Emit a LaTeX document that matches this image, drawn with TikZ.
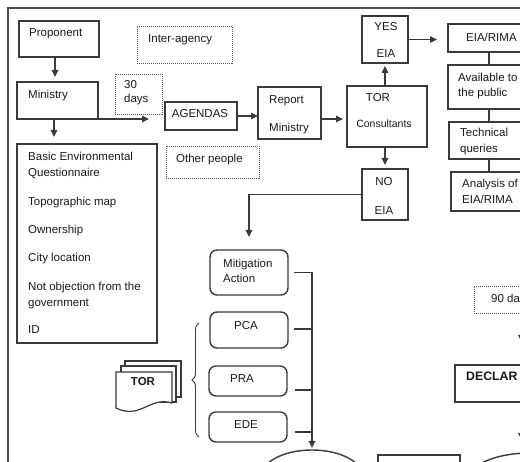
\documentclass[tikz,border=0pt]{standalone}
\usepackage{fontspec}
\setmainfont{Liberation Sans}
\usetikzlibrary{arrows.meta,decorations.pathreplacing,shapes.geometric}
\definecolor{ln}{HTML}{3A3A3A}
\definecolor{tx}{HTML}{1A1A1A}
\begin{document}
\begin{tikzpicture}[x=1pt,y=-1pt,
 box/.style={draw=ln,line width=1.4pt,inner sep=0,outer sep=0,fill=white},
 rbox/.style={box,rounded corners=7pt},
 dbox/.style={draw=ln!85,line width=0.9pt,dash pattern=on 1pt off 1pt,inner sep=0,outer sep=0},
 ebox/.style={draw=ln,line width=1.4pt,ellipse,inner sep=0,outer sep=0},
 lbl/.style={inner sep=0,text height=8pt,text depth=0pt,font=\fontsize{11.5}{13}\selectfont,text=tx},
 lw/.style={lbl,anchor=west},
 lb/.style={lbl,font=\fontsize{11.5}{13}\selectfont\bfseries},
 arr/.style={draw=ln,line width=1.3pt,-{Triangle[length=7pt,width=6.5pt]}},
 con/.style={draw=ln,line width=1.3pt},
 doc/.style={draw=ln,line width=1.2pt,fill=white},
]
\useasboundingbox (0,0) rectangle (520,462);
\clip (0,0) rectangle (520,462);
\fill[white] (0,0) rectangle (520,462);
% frame
\draw[draw=ln!90,line width=1.5pt] (8,470) -- (8,8) -- (530,8);

% boxes
\node[box,minimum width=80pt,minimum height=36pt] (prop) at (59,39) {};
\node[box,minimum width=81pt,minimum height=37pt] (mini) at (57.5,100.5) {};
\node[dbox,minimum width=95pt,minimum height=37pt] (inter) at (184.5,44.5) {};
\node[dbox,minimum width=47pt,minimum height=40pt] (days) at (138.5,94) {};
\node[box,minimum width=72pt,minimum height=28pt] (agen) at (201,116) {};
\node[box,minimum width=63pt,minimum height=52pt] (rep) at (289.5,113) {};
\node[box,minimum width=80pt,minimum height=61pt] (torc) at (387,116.5) {};
\node[box,minimum width=46pt,minimum height=47pt] (yes) at (385,39.5) {};
\node[box,minimum width=112pt,minimum height=28pt] (eia) at (504,38) {};
\node[box,minimum width=112pt,minimum height=44pt] (avail) at (504,87) {};
\node[box,minimum width=111pt,minimum height=37pt] (tech) at (504.5,140.5) {};
\node[box,minimum width=109pt,minimum height=39pt] (anal) at (505.5,191.5) {};
\node[box,minimum width=140pt,minimum height=199pt] (basic) at (87,243.5) {};
\node[dbox,minimum width=93pt,minimum height=32pt] (other) at (212.5,162) {};
\node[box,minimum width=46pt,minimum height=51pt] (no) at (385,194.5) {};
\node[rbox,minimum width=78pt,minimum height=45pt] (mit) at (249,272.5) {};
\node[rbox,minimum width=78pt,minimum height=36pt] (pca) at (249,330) {};
\node[rbox,minimum width=78pt,minimum height=30pt] (pra) at (248,381) {};
\node[rbox,minimum width=78pt,minimum height=30pt] (ede) at (248,427) {};
\node[dbox,minimum width=96pt,minimum height=27pt] (ninety) at (522,299.5) {};
\node[box,minimum width=115pt,minimum height=37pt] (decl) at (512.5,383.5) {};
\node[ebox,minimum width=104pt,minimum height=56pt] (ell) at (312,478) {};
\node[box,minimum width=82pt,minimum height=45pt] (brect) at (419,477.5) {};
\node[ebox,minimum width=124pt,minimum height=54pt] (ell2) at (530,480) {};

% TOR documents
\draw[doc] (125,361) rectangle (181,397);
\draw[doc] (121,366) rectangle (176,402);
\draw[doc] (116,372) -- (172,372) -- (172,403) .. controls (150,396) and (140,420) .. (116,408) -- cycle;
\node[lb] (tordoc) at (143,382) {TOR};

% brace
\draw[decorate,decoration={brace,amplitude=7pt},draw=ln,line width=0.9pt] (199,437) -- (199,323);

% texts
\node[lw] (tprop) at (29,33) {Proponent};
\node[lw] (tinter) at (148,39) {Inter-agency};
\node[lw] (tmini) at (28,95) {Ministry};
\node[lw] (td1) at (124,85) {30};
\node[lw] (td2) at (124,99) {days};
\node[lbl] (tagen) at (200,114) {AGENDAS};
\node[lw] (trep1) at (269,100) {Report};
\node[lw] (trep2) at (269,128) {Ministry};
\node[lbl] (ttor1) at (378,98) {TOR};
\node[lbl,font=\fontsize{10.5}{12}\selectfont] (ttor2) at (384,124) {Consultants};
\node[lbl] (tyes1) at (386,27) {YES};
\node[lbl] (tyes2) at (386,54) {EIA};
\node[lw] (teia) at (466,38) {EIA/RIMA};
\node[lw] (tav1) at (458,78) {Available to};
\node[lw] (tav2) at (458,93) {the public};
\node[lw] (tte1) at (460,133) {Technical};
\node[lw] (tte2) at (460,149) {queries};
\node[lw] (tan1) at (462,184) {Analysis of};
\node[lw] (tan2) at (462,200) {EIA/RIMA};
\node[lw] (toth) at (176,159) {Other people};
\node[lbl] (tno1) at (384,182) {NO};
\node[lbl] (tno2) at (384,211) {EIA};
\node[lw] (tmit1) at (223,264) {Mitigation};
\node[lw] (tmit2) at (223,279) {Action};
\node[lbl] (tpca) at (246,326) {PCA};
\node[lbl] (tpra) at (242,379) {PRA};
\node[lbl] (tede) at (246,425) {EDE};
\node[lw] (tb1) at (28,157) {Basic Environmental};
\node[lw] (tb2) at (28,173) {Questionnaire};
\node[lw] (tb3) at (28,202) {Topographic map};
\node[lw] (tb4) at (28,230) {Ownership};
\node[lw] (tb5) at (28,258) {City location};
\node[lw] (tb6) at (28,287) {Not objection from the};
\node[lw] (tb7) at (28,303) {government};
\node[lw] (tb8) at (28,330) {ID};
\node[lw] (tnin) at (491,299) {90 da};
\node[lb,anchor=west,font=\fontsize{12.3}{14}\selectfont\bfseries] (tdec) at (466,377) {DECLAR};

% connectors
\coordinate (x55) at (55,0);
\coordinate (x54) at (54,0);
\coordinate (t148) at (149,119);
\coordinate (y119) at (0,119);
\coordinate (x489) at (489,0);
\coordinate (x312) at (312,0);
\coordinate (xr) at (521.5,0);
\draw[arr,shorten >=5pt] (prop.south -| x55) -- (mini.north -| x55);
\draw[arr,shorten >=7pt] (mini.south -| x54) -- (basic.north -| x54);
\draw[arr] (mini.south east) -- (t148);
\draw[arr] (agen.east) -- (agen.east -| rep.west);
\draw[arr,shorten >=4pt] (rep.east |- y119) -- (torc.west |- y119);
\draw[arr,shorten >=3pt] (torc.north -| yes.south) -- (yes.south);
\draw[arr,shorten >=11pt] (yes.east) -- (yes.east -| eia.west);
\draw[con] (eia.south -| x489) -- (avail.north -| x489);
\draw[con] (avail.south -| x489) -- (tech.north -| x489);
\draw[con] (tech.south -| x489) -- (anal.north -| x489);
\draw[arr,shorten >=4pt] (torc.south -| no.north) -- (no.north);
\draw[arr,shorten >=13pt] (no.west) -| (mit.north);
\draw[con] ([xshift=6pt]mit.east) -- (mit.east -| x312);
\draw[arr,shorten >=2pt] (mit.east -| x312) -- (ell.north);
\draw[con] ([xshift=6pt,yshift=1pt]pca.east) -- ([yshift=1pt]pca.east -| x312);
\draw[con] ([xshift=8pt,yshift=-9pt]pra.east) -- ([yshift=-9pt]pra.east -| x312);
\draw[con] ([xshift=8pt,yshift=-5pt]ede.east) -- ([yshift=-5pt]ede.east -| x312);
\draw[arr,shorten >=23pt] (ninety.south -| xr) -- (decl.north -| xr);
\draw[arr,shorten >=13pt] (decl.south -| xr) -- (ell2.north -| xr);
\end{tikzpicture}
\end{document}
